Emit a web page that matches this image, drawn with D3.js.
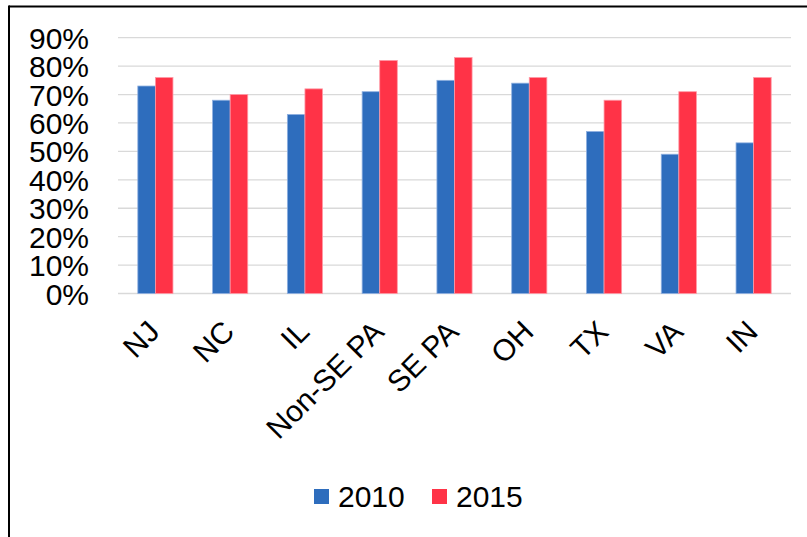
<!DOCTYPE html>
<html>
<head>
<meta charset="utf-8">
<script src="https://cdn.jsdelivr.net/npm/d3@7"></script>
<style>
  html, body { margin: 0; padding: 0; background: #fff; }
  svg { display: block; }
  text { font-family: "Liberation Sans", Arial, sans-serif; fill: #000; }
</style>
</head>
<body>
<script>
const categories = ["NJ", "NC", "IL", "Non-SE PA", "SE PA", "OH", "TX", "VA", "IN"];
const series = ["2010", "2015"];
const values2010 = [0.73, 0.68, 0.63, 0.71, 0.75, 0.74, 0.57, 0.49, 0.53];
const values2015 = [0.76, 0.70, 0.72, 0.82, 0.83, 0.76, 0.68, 0.71, 0.76];
const yTicks = [0, 0.1, 0.2, 0.3, 0.4, 0.5, 0.6, 0.7, 0.8, 0.9];
const colors = ["#2e6dbd", "#ff3347"];
const strokeColors = ["#8fb0e0", "#ff9aa6"];

const W = 807, H = 537;
const svg = d3.select("body").append("svg").attr("width", W).attr("height", H);

// outer frame
svg.append("line").attr("x1", 9).attr("x2", W + 5).attr("y1", 6.5).attr("y2", 6.5)
  .attr("stroke", "#000").attr("stroke-width", 2);
svg.append("line").attr("x1", 9).attr("x2", 9).attr("y1", 5.5).attr("y2", H + 5)
  .attr("stroke", "#000").attr("stroke-width", 2);

const plotLeft = 118, plotRight = 791, plotTop = 37.7, plotBottom = 293.5;

const y = d3.scaleLinear().domain([0, 0.9]).range([plotBottom, plotTop]);
const x0 = d3.scaleBand().domain(categories).range([plotLeft, plotRight])
  .paddingInner(0.53).paddingOuter(0.265);
const x1 = d3.scaleBand().domain(series).range([0, x0.bandwidth()]);

// gridlines
svg.append("g").selectAll("line").data(yTicks).join("line")
  .attr("x1", plotLeft).attr("x2", plotRight)
  .attr("y1", d => y(d)).attr("y2", d => y(d))
  .attr("stroke", "#d9d9d9").attr("stroke-width", 1.3);

// y labels
const yAxis = d3.axisLeft(y).tickValues(yTicks).tickFormat(d3.format(".0%")).tickSize(0).tickPadding(0);
const yg = svg.append("g").attr("transform", "translate(89,0)").call(yAxis);
yg.select(".domain").remove();
yg.selectAll("text").attr("font-size", 30).attr("font-family", '"Liberation Sans", Arial, sans-serif')
  .attr("fill", "#000").attr("dy", "0.35em");

// bars
const data = categories.map((c, i) => ({ cat: c, vals: [values2010[i], values2015[i]] }));
const groups = svg.append("g").selectAll("g").data(data).join("g")
  .attr("transform", d => `translate(${x0(d.cat)},0)`);
groups.selectAll("rect").data(d => d.vals.map((v, j) => ({ key: series[j], v, j }))).join("rect")
  .attr("x", d => x1(d.key))
  .attr("width", x1.bandwidth())
  .attr("y", d => y(d.v))
  .attr("height", d => y(0) - y(d.v))
  .attr("fill", d => colors[d.j])
  .attr("stroke", d => strokeColors[d.j])
  .attr("stroke-width", 0.8);

// category labels
const xAxis = d3.axisBottom(x0).tickSize(0).tickPadding(0);
const xg = svg.append("g").attr("transform", `translate(0,${plotBottom})`).call(xAxis);
xg.select(".domain").remove();
xg.selectAll(".tick text")
  .attr("font-size", 30).attr("font-family", '"Liberation Sans", Arial, sans-serif')
  .attr("fill", "#000")
  .attr("text-anchor", "end")
  .attr("dy", 0).attr("y", 0)
  .attr("transform", "translate(6,40) rotate(-45)");

// legend
const legend = svg.append("g");
const legendItems = [
  { label: series[0], color: colors[0], x: 314 },
  { label: series[1], color: colors[1], x: 432 }
];
legendItems.forEach(it => {
  legend.append("rect").attr("x", it.x).attr("y", 489).attr("width", 15).attr("height", 15).attr("fill", it.color);
  legend.append("text").attr("x", it.x + 24).attr("y", 496).attr("dy", "0.35em")
    .attr("font-size", 30).text(it.label);
});
</script>
</body>
</html>
